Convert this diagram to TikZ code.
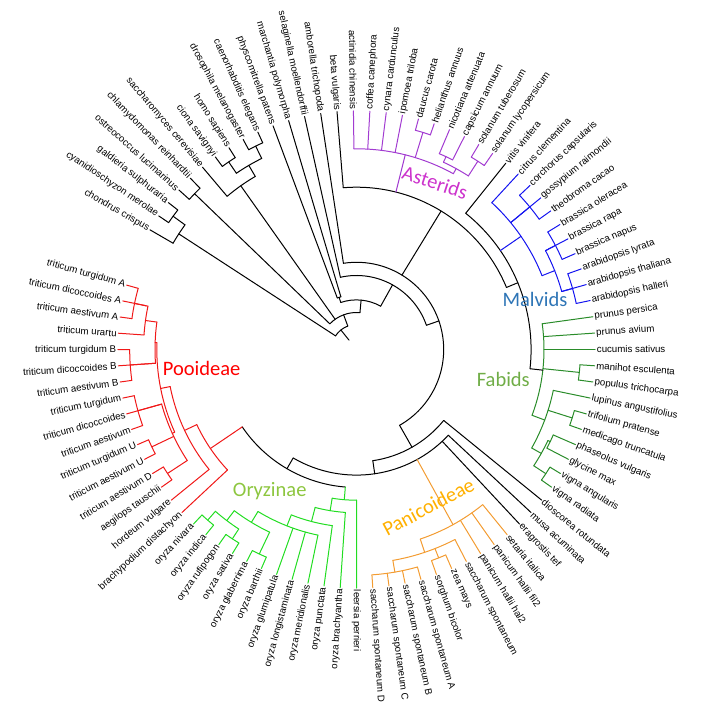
\documentclass[tikz,border=0pt]{standalone}
\usepackage{fontspec}
\setmainfont{Liberation Sans}
\newfontfamily\clfont{Carlito}
\definecolor{colPoo}{HTML}{F01818}
\definecolor{colOry}{HTML}{22DD22}
\definecolor{colPan}{HTML}{F39C32}
\definecolor{colFab}{HTML}{2A8C2A}
\definecolor{colMal}{HTML}{1414F0}
\definecolor{colAst}{HTML}{A23BD1}
\definecolor{txPoo}{HTML}{FF0000}
\definecolor{txOry}{HTML}{8DC63F}
\definecolor{txPan}{HTML}{FFB000}
\definecolor{txFab}{HTML}{70AD47}
\definecolor{txMal}{HTML}{2E75B6}
\definecolor{txAst}{HTML}{CC33CC}
\pgfmathdeclarefunction{la}{1}{\pgfmathparse{(#1<=39)?((39-#1)*3.945):((39-#1)*3.913)}}
\newcommand\NA[1]{\csname na#1\endcsname}
\newcommand\NR[1]{\csname nr#1\endcsname}
\newcommand\tnode[5][black]{%
  \pgfmathsetmacro\tnA{#4}\pgfmathsetmacro\tnB{#5}%
  \pgfmathsetmacro\tnM{(\tnA+\tnB)/2}%
  \expandafter\xdef\csname na#2\endcsname{\tnM}%
  \expandafter\xdef\csname nr#2\endcsname{#3}%
  \coordinate (#2) at (\tnM:#3pt);%
  \draw[#1] (\tnA:#3pt) arc[start angle=\tnA, end angle=\tnB, radius=#3pt];}
\newcommand\ed[3][black]{\draw[#1] (\NA{#3}:\NR{#2}pt) -- (#3);}
\newcommand\lfe[3][black]{\draw[#1] ({la(#3)}:\NR{#2}pt) -- (T#3);}
\begin{document}
\begin{tikzpicture}[x=1pt,y=1pt,line width=1pt,line cap=round,
  lbl/.style={font=\fontsize{9.7}{11}\selectfont,inner sep=1.2pt},
  clade/.style={font=\clfont\fontsize{20.5}{24}\selectfont,inner sep=0pt}]
\useasboundingbox (-356.5,-370.5) rectangle (347.5,349.5);
\foreach \i in {1,...,89}{\coordinate (T\i) at ({la(\i)}:238.7pt);}
% ---- nodes (bottom-up)
\tnode{RAb}{226.7}{la(2)}{la(3)}
\tnode{RA}{212}{la(1)}{\NA{RAb}}
\tnode{GA}{224.7}{la(4)}{la(5)}
\tnode{CH}{227}{la(7)}{la(8)}
\tnode{DC}{227}{la(9)}{la(10)}
\tnode{AN}{213.3}{\NA{CH}}{\NA{DC}}
\tnode{OP}{200.5}{la(6)}{\NA{AN}}
\tnode{BRY}{55}{la(11)}{la(12)}
\tnode[colAst]{DH}{227}{la(20)}{la(21)}
\tnode[colAst]{NC}{212.6}{la(22)}{la(23)}
\tnode[colAst]{ST}{224}{la(24)}{la(25)}
\tnode[colAst]{SOL}{206.5}{\NA{NC}}{\NA{ST}}
\tnode[colAst]{AST}{200.7}{la(16)}{\NA{SOL}}
\tnode[colMal]{MVa}{224.4}{la(28)}{la(30)}
\tnode[colMal]{BRa}{224.5}{la(31)}{la(33)}
\tnode[colMal]{ARa}{224.5}{la(34)}{la(36)}
\tnode[colMal]{BR}{213.3}{la(32)}{la(35)}
\tnode[colMal]{MAL}{199.7}{la(27)}{\NA{BR}}
\tnode[colFab]{MP}{224}{la(40)}{la(41)}
\tnode[colFab]{TM}{226.3}{la(43)}{la(44)}
\tnode[colFab]{PG}{214.5}{la(45)}{la(46)}
\tnode[colFab]{VV}{226.4}{la(47)}{la(48)}
\tnode[colFab]{PV}{212}{\NA{PG}}{\NA{VV}}
\tnode[colFab]{LEG}{201}{la(42)}{\NA{PV}}
\tnode[colFab]{FAB}{187.5}{la(37)}{\NA{LEG}}
\tnode{ROS}{174.6}{la(26)}{\NA{FAB}}
\tnode{EUD}{162.3}{la(15)}{\NA{ROS}}
\tnode[colPan]{SAC}{225.9}{la(58)}{la(61)}
\tnode[colPan]{SZ}{224}{la(56)}{la(57)}
\tnode[colPan]{AND}{214}{la(55)}{\NA{SAC}}
\tnode[colPan]{PAN}{200}{la(52)}{\NA{AND}}
\tnode[colOry]{NI}{226.4}{la(72)}{la(73)}
\tnode[colOry]{RS}{226.4}{la(70)}{la(71)}
\tnode[colOry]{AS}{214.7}{\NA{RS}}{\NA{NI}}
\tnode[colOry]{GB}{226.4}{la(68)}{la(69)}
\tnode[colOry]{ORg}{202.3}{\NA{GB}}{\NA{AS}}
\tnode[colOry]{ORd}{189.6}{la(65)}{\NA{ORg}}
\tnode[colOry]{ORc}{177.8}{la(64)}{\NA{ORd}}
\tnode[colOry]{ORb}{163.3}{la(63)}{\NA{ORc}}
\tnode[colOry]{ORY}{150.7}{la(62)}{\NA{ORb}}
\tnode[colPoo]{Xa}{226.7}{la(87)}{la(89)}
\tnode[colPoo]{Ya}{215}{la(88)}{\NA{Xa}}
\tnode[colPoo]{Za}{213}{la(86)}{\NA{Ya}}
\tnode[colPoo]{Ba}{226.8}{la(83)}{la(85)}
\tnode[colPoo]{Ga}{227}{la(80)}{la(82)}
\tnode[colPoo]{Ua}{226.7}{la(78)}{la(79)}
\tnode[colPoo]{ADa}{226}{la(76)}{la(77)}
\tnode[colPoo]{Pa}{201.5}{\NA{Za}}{la(84)}
\tnode[colPoo]{Qa}{202.4}{la(81)}{\NA{ADa}}
\tnode[colPoo]{PRc}{199.7}{\NA{Pa}}{\NA{Qa}}
\tnode[colPoo]{PRb}{190}{la(75)}{\NA{PRc}}
\tnode[colPoo]{PR}{176.5}{la(74)}{\NA{PRb}}
\tnode{BOP}{138}{\NA{ORY}}{\NA{PR}}
\tnode{Mb}{125.6}{la(50)}{\NA{BOP}}
\tnode{MON}{112.4}{la(49)}{\NA{Mb}}
\tnode{Nf}{87.2}{la(14)}{\NA{MON}}
\tnode{Ne}{74}{la(13)}{\NA{Nf}}
\tnode{Nc}{49.6}{\NA{BRY}}{\NA{Ne}}
\tnode{Nb}{37}{\NA{GA}}{\NA{Nc}}
\tnode{ROOT}{25}{\NA{RA}}{\NA{Nb}}
% ---- edges
\draw (\NA{ROOT}:12pt) -- (ROOT);
\ed{ROOT}{RA}\ed{ROOT}{Nb}
\lfe{RA}{1}\ed{RA}{RAb}\lfe{RAb}{2}\lfe{RAb}{3}
\ed{Nb}{GA}\lfe{GA}{4}\lfe{GA}{5}
\ed{Nb}{OP}\lfe{OP}{6}\ed{OP}{AN}\ed{AN}{CH}\ed{AN}{DC}
\lfe{CH}{7}\lfe{CH}{8}\lfe{DC}{9}\lfe{DC}{10}
\ed{Nb}{Nc}\ed{Nc}{BRY}\lfe{BRY}{11}\lfe{BRY}{12}
\ed{Nc}{Ne}\lfe{Ne}{13}\ed{Ne}{Nf}\lfe{Nf}{14}
\ed{Nf}{EUD}\ed{Nf}{MON}
\lfe{EUD}{15}\ed[colAst]{EUD}{AST}\ed{EUD}{ROS}
\foreach \k in {16,17,18,19}{\lfe[colAst]{AST}{\k}}
\ed[colAst]{AST}{DH}\ed[colAst]{AST}{SOL}
\lfe[colAst]{DH}{20}\lfe[colAst]{DH}{21}
\ed[colAst]{SOL}{NC}\ed[colAst]{SOL}{ST}
\lfe[colAst]{NC}{22}\lfe[colAst]{NC}{23}\lfe[colAst]{ST}{24}\lfe[colAst]{ST}{25}
\lfe{ROS}{26}\ed[colMal]{ROS}{MAL}\ed{ROS}{FAB}
\lfe[colMal]{MAL}{27}\lfe[colMal]{MAL}{29}\ed[colMal]{MAL}{MVa}\ed[colMal]{MAL}{BR}
\lfe[colMal]{MVa}{28}\lfe[colMal]{MVa}{30}
\lfe[colMal]{BR}{32}\lfe[colMal]{BR}{35}\ed[colMal]{BR}{BRa}\ed[colMal]{BR}{ARa}
\lfe[colMal]{BRa}{31}\lfe[colMal]{BRa}{33}\lfe[colMal]{ARa}{34}\lfe[colMal]{ARa}{36}
\foreach \k in {37,38,39}{\lfe[colFab]{FAB}{\k}}
\ed[colFab]{FAB}{MP}\ed[colFab]{FAB}{LEG}\lfe[colFab]{MP}{40}\lfe[colFab]{MP}{41}
\lfe[colFab]{LEG}{42}\ed[colFab]{LEG}{TM}\ed[colFab]{LEG}{PV}
\lfe[colFab]{TM}{43}\lfe[colFab]{TM}{44}\ed[colFab]{PV}{PG}\ed[colFab]{PV}{VV}
\lfe[colFab]{PG}{45}\lfe[colFab]{PG}{46}\lfe[colFab]{VV}{47}\lfe[colFab]{VV}{48}
\lfe{MON}{49}\ed{MON}{Mb}\lfe{Mb}{50}\lfe{Mb}{51}\ed[colPan]{Mb}{PAN}\ed{Mb}{BOP}
\foreach \k in {52,53,54}{\lfe[colPan]{PAN}{\k}}
\ed[colPan]{PAN}{AND}\lfe[colPan]{AND}{55}\ed[colPan]{AND}{SZ}\ed[colPan]{AND}{SAC}
\lfe[colPan]{SZ}{56}\lfe[colPan]{SZ}{57}
\foreach \k in {58,59,60,61}{\lfe[colPan]{SAC}{\k}}
\ed[colOry]{BOP}{ORY}\ed[colPoo]{BOP}{PR}
\lfe[colOry]{ORY}{62}\ed[colOry]{ORY}{ORb}\lfe[colOry]{ORb}{63}\ed[colOry]{ORb}{ORc}
\lfe[colOry]{ORc}{64}\ed[colOry]{ORc}{ORd}
\lfe[colOry]{ORd}{65}\lfe[colOry]{ORd}{66}\lfe[colOry]{ORd}{67}\ed[colOry]{ORd}{ORg}
\ed[colOry]{ORg}{GB}\ed[colOry]{ORg}{AS}\lfe[colOry]{GB}{68}\lfe[colOry]{GB}{69}
\ed[colOry]{AS}{RS}\ed[colOry]{AS}{NI}\lfe[colOry]{RS}{70}\lfe[colOry]{RS}{71}
\lfe[colOry]{NI}{72}\lfe[colOry]{NI}{73}
\lfe[colPoo]{PR}{74}\ed[colPoo]{PR}{PRb}\lfe[colPoo]{PRb}{75}\ed[colPoo]{PRb}{PRc}
\ed[colPoo]{PRc}{Pa}\ed[colPoo]{PRc}{Qa}
\ed[colPoo]{Pa}{Za}\lfe[colPoo]{Pa}{84}\ed[colPoo]{Pa}{Ba}\lfe[colPoo]{Ba}{83}\lfe[colPoo]{Ba}{85}
\lfe[colPoo]{Za}{86}\ed[colPoo]{Za}{Ya}\lfe[colPoo]{Ya}{88}\ed[colPoo]{Ya}{Xa}
\lfe[colPoo]{Xa}{87}\lfe[colPoo]{Xa}{89}
\lfe[colPoo]{Qa}{81}\ed[colPoo]{Qa}{Ga}\ed[colPoo]{Qa}{Ua}\ed[colPoo]{Qa}{ADa}
\lfe[colPoo]{Ga}{80}\lfe[colPoo]{Ga}{82}\lfe[colPoo]{Ua}{78}\lfe[colPoo]{Ua}{79}
\lfe[colPoo]{ADa}{76}\lfe[colPoo]{ADa}{77}
% ---- leaf labels
\foreach \i/\nm in {1/chondrus crispus,2/cyanidioschyzon merolae,3/galdieria sulphuraria,
 4/ostreococcus lucimarinus,5/chlamydomonas reinhardtii,6/saccharomyces cerevisiae,
 7/ciona savignyi,8/homo sapiens,9/drosophila melanogaster,10/caenorhabditis elegans,
 11/physcomitrella patens,12/marchantia polymorpha,13/selaginella moellendorffii,
 14/amborella trichopoda,15/beta vulgaris,16/actinidia chinensis,17/coffea canephora,
 18/cynara cardunculus,19/ipomoea triloba,20/daucus carota,21/helianthus annuus,
 22/nicotiana attenuata,23/capsicum annuum,24/solanum tuberosum,25/solanum lycopersicum,
 26/vitis vinifera,27/citrus clementina,28/corchorus capsularis,29/gossypium raimondii,
 30/theobroma cacao,31/brassica oleracea,32/brassica rapa,33/brassica napus,
 34/arabidopsis lyrata,35/arabidopsis thaliana,36/arabidopsis halleri,37/prunus persica,
 38/prunus avium,39/cucumis sativus,40/manihot esculenta,41/populus trichocarpa,
 42/lupinus angustifolius,43/trifolium pratense,44/medicago truncatula,45/phaseolus vulgaris,
 46/glycine max,47/vigna angularis,48/vigna radiata,49/dioscorea rotundata,50/musa acuminata,
 51/eragrostis tef,52/setaria italica,53/panicum hallii fil2,54/panicum hallii hal2,
 55/saccharum spontaneum,56/zea mays,57/sorghum bicolor,58/saccharum spontaneum A,
 59/saccharum spontaneum B,60/saccharum spontaneum C,61/saccharum spontaneum D,
 62/leersia perrieri,63/oryza brachyantha,64/oryza punctata,65/oryza meridionalis,
 66/oryza longistaminata,67/oryza glumipatula,68/oryza barthii,69/oryza glaberrima,
 70/oryza sativa,71/oryza rufipogon,72/oryza indica,73/oryza nivara,
 74/brachypodium distachyon,75/hordeum vulgare,76/aegilops tauschii,77/triticum aestivum D,
 78/triticum aestivum U,79/triticum turgidum U,80/triticum aestivum,81/triticum dicoccoides,
 82/triticum turgidum,83/triticum aestivum B,84/triticum dicoccoides B,85/triticum turgidum B,
 86/triticum urartu,87/triticum aestivum A,88/triticum dicoccoides A,89/triticum turgidum A}{%
  \pgfmathsetmacro\ang{la(\i)}%
  \pgfmathtruncatemacro\lft{(\ang>90)||(\ang<-90)}%
  \ifnum\lft=1
    \node[lbl,anchor=east,rotate=\ang+180] (L\i) at (T\i) {\nm};
  \else
    \node[lbl,anchor=west,rotate=\ang] (L\i) at (T\i) {\nm};
  \fi}
% ---- clade labels
\node[clade,text=txPoo,anchor=base] (cPoo) at (-154.8,-25.5) {Pooideae};
\node[clade,text=txOry,anchor=base] (cOry) at (-86.8,-147.2) {Oryzinae};
\node[clade,text=txPan,rotate=28] (cPan) at (71.8,-157.2) {Panicoideae};
\node[clade,text=txFab,anchor=base] (cFab) at (146.8,-37.2) {Fabids};
\node[clade,text=txMal,anchor=base] (cMal) at (178.5,42.8) {Malvids};
\node[clade,text=txAst,rotate=-18] (cAst) at (78.5,167) {Asterids};
\end{tikzpicture}
\end{document}
